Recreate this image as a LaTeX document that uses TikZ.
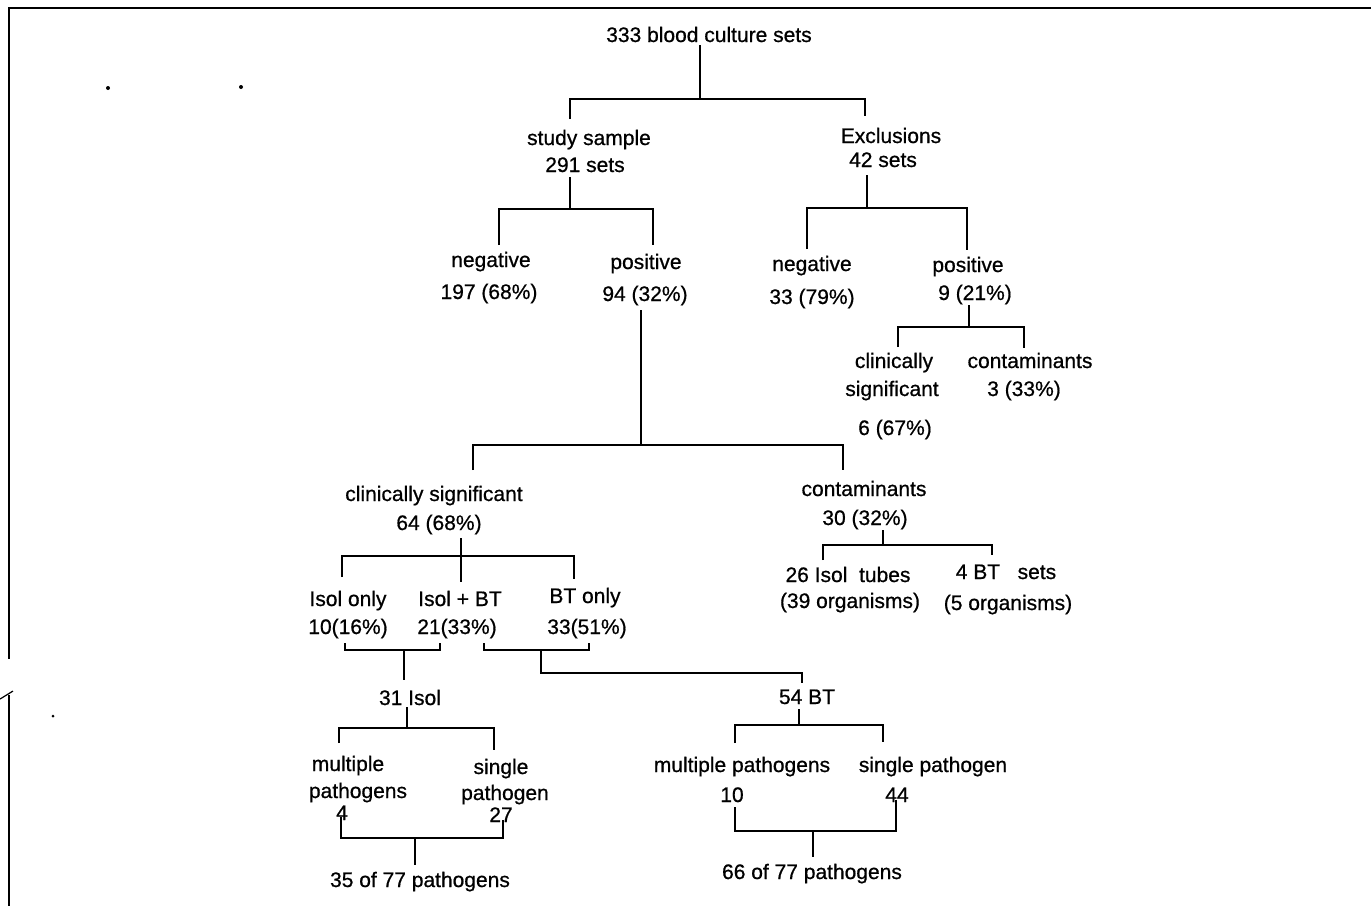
\documentclass[tikz,border=0pt]{standalone}
\usepackage{fontspec}
\setmainfont[FakeBold=0.7]{Liberation Sans}
\begin{document}
\begin{tikzpicture}[x=1pt,y=-1pt,
  lbl/.style={anchor=base,inner sep=0pt,font=\fontsize{21}{25}\selectfont},
  conn/.style={line width=2.2pt,line join=miter},
  frame/.style={line width=2.8pt},
  speck/.style={fill=black}]
\useasboundingbox (0,0) rectangle (1371,906);
% frame
\coordinate (f0) at (9,8); \coordinate (f1) at (1371,8);
\coordinate (f2) at (9,659); \coordinate (f3) at (9,695); \coordinate (f4) at (9,906);
\coordinate (h0) at (0,699); \coordinate (h1) at (13,691);
\draw[frame] (f1) -- (f0) -- (f2);
\draw[frame] (f3) -- (f4);
\draw[line width=1.2pt] (h0) .. controls (5,696) .. (h1);
\fill[speck] (108,88) circle (2); \fill[speck] (241,87) circle (2); \fill[speck] (53,716) circle (1.5);
% labels
\node[lbl] (title) at (709,42) {333 blood culture sets};
\node[lbl] (study) at (589,145) {study sample};
\node[lbl] (study2) at (585,172) {291 sets};
\node[lbl] (excl) at (891,143) {Exclusions};
\node[lbl] (excl2) at (883,167) {42 sets};
\node[lbl] (negL) at (491,267) {negative};
\node[lbl] (negL2) at (489,299) {197 (68\%)};
\node[lbl] (posL) at (646,269) {positive};
\node[lbl] (posL2) at (645,301) {94 (32\%)};
\node[lbl] (negR) at (812,271) {negative};
\node[lbl] (negR2) at (812,304) {33 (79\%)};
\node[lbl] (posR) at (968,272) {positive};
\node[lbl] (posR2) at (975,300) {9 (21\%)};
\node[lbl] (csR) at (894,368) {clinically};
\node[lbl] (csR2) at (892,396) {significant};
\node[lbl] (csR3) at (895,435) {6 (67\%)};
\node[lbl] (coR) at (1030,368) {contaminants};
\node[lbl] (coR2) at (1024,396) {3 (33\%)};
\node[lbl] (cs) at (434,501) {clinically significant};
\node[lbl] (cs2) at (439,530) {64 (68\%)};
\node[lbl] (co) at (864,496) {contaminants};
\node[lbl] (co2) at (865,525) {30 (32\%)};
\node[lbl] (io) at (348,606) {Isol only};
\node[lbl] (io2) at (348,634) {10(16\%)};
\node[lbl] (ib) at (460,606) {Isol + BT};
\node[lbl] (ib2) at (457,634) {21(33\%)};
\node[lbl] (bo) at (585,603) {BT only};
\node[lbl] (bo2) at (587,634) {33(51\%)};
\node[lbl] (tubes) at (848,582) {26 Isol\ \ tubes};
\node[lbl] (tubes2) at (850,608) {(39 organisms)};
\node[lbl] (btsets) at (1006,579) {4 BT\ \ \ sets};
\node[lbl] (btsets2) at (1008,610) {(5 organisms)};
\node[lbl] (isol) at (410,705) {31 Isol};
\node[lbl] (bt) at (807,704) {54 BT};
\node[lbl] (mpL) at (348,771) {multiple};
\node[lbl] (mpL2) at (358,798) {pathogens};
\node[lbl] (mpL3) at (342,820) {4};
\node[lbl] (spL) at (501,774) {single};
\node[lbl] (spL2) at (505,800) {pathogen};
\node[lbl] (spL3) at (501,822) {27};
\node[lbl] (totL) at (420,887) {35 of 77 pathogens};
\node[lbl] (mpR) at (742,772) {multiple pathogens};
\node[lbl] (mpR2) at (732,802) {10};
\node[lbl] (spR) at (933,772) {single pathogen};
\node[lbl] (spR2) at (897,802) {44};
\node[lbl] (totR) at (812,879) {66 of 77 pathogens};
% connector coordinates
\coordinate (a0) at (700,45);  \coordinate (a1) at (700,99);  \coordinate (aL) at (570,119); \coordinate (aR) at (865,116);
\coordinate (b0) at (570,177); \coordinate (b1) at (570,209); \coordinate (bL) at (499,245); \coordinate (bR) at (653,245);
\coordinate (c0) at (867,175); \coordinate (c1) at (867,208); \coordinate (cL) at (807,249); \coordinate (cR) at (967,250);
\coordinate (d0) at (969,305); \coordinate (d1) at (969,327); \coordinate (dL) at (898,347); \coordinate (dR) at (1024,348);
\coordinate (e0) at (641,310); \coordinate (e1) at (641,445); \coordinate (eL) at (473,470); \coordinate (eR) at (843,470);
\coordinate (g0) at (461,538); \coordinate (g1) at (461,556); \coordinate (gL) at (342,577); \coordinate (gR) at (574,579); \coordinate (gM) at (461,582);
\coordinate (k0) at (883,530); \coordinate (k1) at (883,545); \coordinate (kL) at (823,560); \coordinate (kR) at (992,555);
\coordinate (s1L) at (345,643); \coordinate (s1R) at (440,643); \coordinate (s1M) at (404,650); \coordinate (s1B) at (404,680);
\coordinate (s2L) at (484,643); \coordinate (s2R) at (589,643); \coordinate (s2M) at (541,650); \coordinate (s2B) at (802,683);
\coordinate (m0) at (407,707); \coordinate (m1) at (407,728); \coordinate (mL) at (339,743); \coordinate (mR) at (494,750);
\coordinate (n0) at (799,709); \coordinate (n1) at (799,725); \coordinate (nL) at (735,743); \coordinate (nR) at (883,742);
\coordinate (p1L) at (341,817); \coordinate (p1R) at (503,820); \coordinate (p1M) at (415,838); \coordinate (p1B) at (415,865);
\coordinate (p2L) at (735,807); \coordinate (p2R) at (896,800); \coordinate (p2M) at (813,831); \coordinate (p2B) at (813,857);
% connectors
\foreach \t in {a,b,c,d,e,g,k,m,n}{
  \draw[conn] (\t0) -- (\t1);
  \draw[conn] (\t L) |- (\t1) -| (\t R);
}
\draw[conn] (g1) -- (gM);
\draw[conn] (s1L) |- (s1M) -| (s1R);
\draw[conn] (s1M) -- (s1B);
\draw[conn] (s2L) |- (s2M) -| (s2R);
\draw[conn] (s2M) |- (541,673) -| (s2B);
\draw[conn] (p1L) |- (p1M) -| (p1R);
\draw[conn] (p1M) -- (p1B);
\draw[conn] (p2L) |- (p2M) -| (p2R);
\draw[conn] (p2M) -- (p2B);
\end{tikzpicture}
\end{document}
